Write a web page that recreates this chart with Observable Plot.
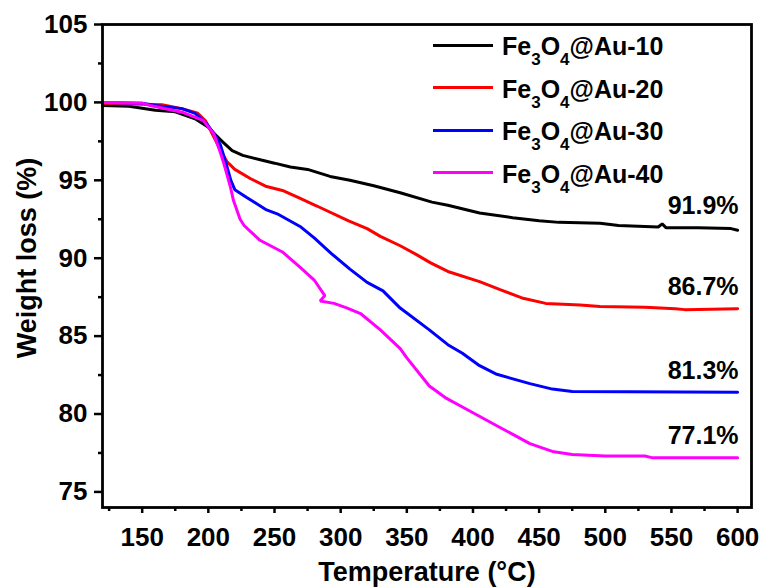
<!DOCTYPE html>
<html>
<head>
<meta charset="utf-8">
<script src="https://cdn.jsdelivr.net/npm/d3@7"></script>
<script src="https://cdn.jsdelivr.net/npm/@observablehq/plot@0.6"></script>
<style>
  body { margin: 0; background: #fff; }
  #wrap { position: relative; width: 764px; height: 587px; font-family: "Liberation Sans", Arial, sans-serif; font-weight: bold; }
  .lg-line { position: absolute; left: 433px; width: 60px; height: 3px; }
  .lg-text { position: absolute; left: 502px; font-size: 25px; line-height: 25px; white-space: nowrap; color: #000; }
  .lg-text sub { font-size: 17px; vertical-align: baseline; position: relative; top: 10px; }
</style>
</head>
<body>
<div id="wrap"></div>
<script>
// ---- data ----
const seriesNames = ["Fe3O4@Au-10", "Fe3O4@Au-20", "Fe3O4@Au-30", "Fe3O4@Au-40"];
const seriesColors = ["#000000", "#ff0000", "#0000ff", "#ff00ff"];

const t10 = [120,140,160,175,190,200,205,211,218,226,240,250,262,275,292,307,325,345,369,381,405,430,450,465,496,510,540,543,546,570,595,600];
const w10 = [99.8,99.75,99.5,99.4,98.95,98.4,97.95,97.45,96.9,96.6,96.3,96.1,95.85,95.7,95.25,95.0,94.65,94.2,93.6,93.4,92.9,92.6,92.4,92.3,92.25,92.1,92.0,92.2,91.95,91.95,91.9,91.8];

const t20 = [120,165,180,192,198,204,210,214,220,232,244,256,269,282,306,320,330,345,358,368,381,405,420,437,455,481,496,530,553,560,600];
const w20 = [99.95,99.85,99.6,99.3,98.8,97.8,96.8,96.2,95.7,95.1,94.6,94.35,93.85,93.35,92.4,91.9,91.4,90.8,90.2,89.7,89.15,88.5,88.0,87.45,87.1,87.0,86.9,86.85,86.75,86.7,86.75];

const t30 = [120,150,160,180,190,199,205,209,213,217,220,229,244,252,270,280,293,307,320,332,345,367,381,392,405,418,443,460,475,600];
const w30 = [100,99.95,99.8,99.6,99.3,98.6,97.9,97.3,96.2,95.0,94.4,93.9,93.1,92.85,92.0,91.3,90.3,89.3,88.45,87.9,86.8,85.4,84.45,83.9,83.1,82.55,81.95,81.6,81.45,81.4];

const t40 = [120,150,156,181,196,204,209,212,216.6,219,224,227,239,256,269,280,288,284.5,295,305,315,330,345,350,367,380,392,418,443,460,475,500,530,535,600];
const w40 = [100,99.95,99.8,99.35,98.85,98.0,96.8,96.0,94.6,93.7,92.5,92.1,91.15,90.4,89.45,88.6,87.6,87.25,87.1,86.8,86.45,85.4,84.2,83.6,81.8,81.0,80.45,79.25,78.1,77.6,77.4,77.3,77.3,77.2,77.2];

const endLabels = ["91.9%", "86.7%", "81.3%", "77.1%"];
const endValues = [91.9, 86.7, 81.3, 77.1];

const xTicks = [150,200,250,300,350,400,450,500,550,600];
const xMinor = [125,175,225,275,325,375,425,475,525,575];
const yTicks = [75,80,85,90,95,100,105];
const yMinor = [77.5,82.5,87.5,92.5,97.5,102.5];

// ---- build tables ----
const temps = [t10, t20, t30, t40];
const weights = [w10, w20, w30, w40];
const rows = [];
seriesNames.forEach((name, s) => {
  temps[s].forEach((t, i) => rows.push({series: name, t, w: weights[s][i]}));
});
const labelRows = endLabels.map((l, i) => ({label: l, t: 600, w: endValues[i]}));

const font = "'Liberation Sans', Arial, sans-serif";

const chart = Plot.plot({
  width: 764,
  height: 587,
  marginLeft: 102,
  marginRight: 13,
  marginTop: 24,
  marginBottom: 80,
  style: { fontFamily: font, fontWeight: "bold", background: "#fff", color: "#000", overflow: "visible" },
  x: { domain: [120, 610.5] },
  y: { domain: [74, 105] },
  color: { domain: seriesNames, range: seriesColors },
  marks: [
    Plot.line(rows, { x: "t", y: "w", z: "series", stroke: "series", strokeWidth: 3, strokeLinejoin: "miter", curve: "linear" }),
    Plot.text(labelRows, { x: "t", y: "w", text: "label", textAnchor: "end", dy: -23, dx: 1, fontSize: 25, fontWeight: "bold", fill: "#000" }),
    Plot.frame({ stroke: "#000", strokeWidth: 2.8 }),
    Plot.axisX({ ticks: xTicks, tickSize: 6, tickPadding: 14, fontSize: 26, fontWeight: "bold", strokeWidth: 2.5, label: null, tickFormat: d => String(d) }),
    Plot.axisX({ ticks: xMinor, tickSize: 4, strokeWidth: 2.5, text: null, label: null }),
    Plot.axisY({ ticks: yTicks, tickSize: 8, tickPadding: 7, fontSize: 26, fontWeight: "bold", strokeWidth: 2.5, label: null, tickFormat: d => String(d) }),
    Plot.axisY({ ticks: yMinor, tickSize: 4, strokeWidth: 2.5, text: null, label: null }),
    Plot.text(["Temperature (°C)"], { frameAnchor: "bottom", textAnchor: "middle", lineAnchor: "middle", dy: 65, fontSize: 27, fontWeight: "bold", fill: "#000" }),
    Plot.text(["Weight loss (%)"], { frameAnchor: "left", textAnchor: "middle", lineAnchor: "middle", dx: -75, dy: -8, rotate: -90, fontSize: 27, fontWeight: "bold", fill: "#000" })
  ]
});

const wrap = document.getElementById("wrap");
wrap.appendChild(chart);

// legend overlay (inside the plot frame, top right)
const legendY = [45, 87.5, 130, 172.5];
seriesNames.forEach((name, i) => {
  const line = document.createElement("div");
  line.className = "lg-line";
  line.style.top = (legendY[i] - 1.5) + "px";
  line.style.background = seriesColors[i];
  wrap.appendChild(line);
  const txt = document.createElement("div");
  txt.className = "lg-text";
  txt.style.top = (legendY[i] - 11) + "px";
  txt.innerHTML = name.replace("Fe3O4", "Fe<sub>3</sub>O<sub>4</sub>");
  wrap.appendChild(txt);
});
</script>
</body>
</html>
